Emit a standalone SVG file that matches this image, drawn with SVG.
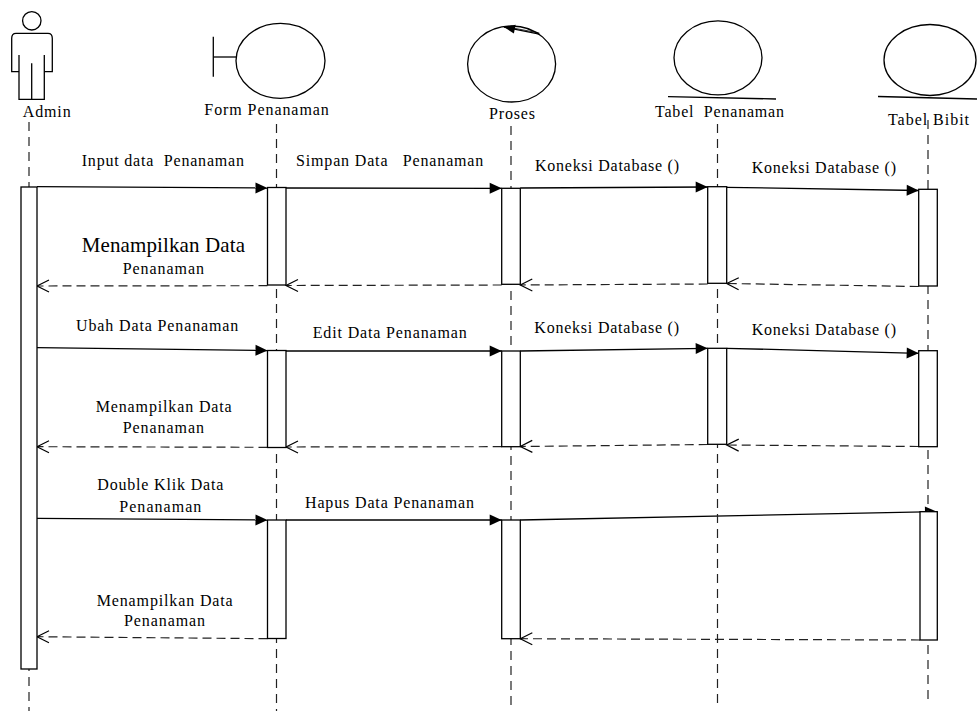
<svg xmlns="http://www.w3.org/2000/svg" width="977" height="711" viewBox="0 0 977 711">
<style>
text{font-family:"Liberation Serif","Times New Roman",serif;font-size:16px;fill:#000;white-space:pre}
.big{font-size:21px}
.sh{fill:none;stroke:#000;stroke-width:1.3}
.life{stroke:#222;stroke-width:1.2;stroke-dasharray:9 6;fill:none}
.act{fill:#fff;stroke:#000;stroke-width:1.3}
.msg{stroke:#000;stroke-width:1.3;fill:none;marker-end:url(#arr)}
.ret{stroke:#222;stroke-width:1.2;fill:none;stroke-dasharray:9 5;marker-end:url(#open)}
</style>
<defs>
<marker id="arr" markerUnits="userSpaceOnUse" markerWidth="13" markerHeight="12" refX="12" refY="5.5" orient="auto" overflow="visible">
<path d="M0,0 L12,5.5 L0,11 z" fill="#000"/>
</marker>
<marker id="small" markerUnits="userSpaceOnUse" markerWidth="12" markerHeight="10" refX="11" refY="4.5" orient="auto" overflow="visible">
<path d="M0,0 L11,4.5 L0,9 z" fill="#000"/>
</marker>
<marker id="open" markerUnits="userSpaceOnUse" markerWidth="13" markerHeight="13" refX="12" refY="6" orient="auto" overflow="visible">
<path d="M0,0 L12,6 L0,12" fill="none" stroke="#000" stroke-width="1.2"/>
</marker>
</defs>
<rect width="977" height="711" fill="#fff"/>

<g id="connectors">
<line class="msg" x1="37" y1="186.7" x2="267.5" y2="188"/>
<line class="msg" x1="286" y1="188" x2="501.7" y2="188.3"/>
<line class="msg" x1="520.3" y1="188" x2="707.7" y2="187"/>
<line class="msg" x1="726.7" y1="187.3" x2="918.7" y2="190.5"/>
<line class="ret" x1="918.7" y1="286.5" x2="726.7" y2="283.5"/>
<line class="ret" x1="707.7" y1="284" x2="520.3" y2="285"/>
<line class="ret" x1="501.7" y1="285" x2="286" y2="285.5"/>
<line class="ret" x1="267.5" y1="285.7" x2="37" y2="286"/>

<line class="msg" x1="37" y1="347.7" x2="267.5" y2="350.5"/>
<line class="msg" x1="286" y1="351" x2="501.7" y2="351"/>
<line class="msg" x1="520.3" y1="351" x2="707.7" y2="348.3"/>
<line class="msg" x1="726.7" y1="348.3" x2="918.7" y2="353.3"/>
<line class="ret" x1="918.7" y1="446.5" x2="726.7" y2="445"/>
<line class="ret" x1="707.7" y1="444.5" x2="520.3" y2="446.5"/>
<line class="ret" x1="501.7" y1="446.7" x2="286" y2="447"/>
<line class="ret" x1="267.5" y1="447.3" x2="37" y2="446.7"/>

<line class="msg" x1="37" y1="518.3" x2="267.5" y2="520"/>
<line class="msg" x1="286" y1="520" x2="501.7" y2="520"/>
<line class="msg" x1="520.3" y1="520" x2="937" y2="511.7"/>
<line class="ret" x1="920" y1="640" x2="520.3" y2="638.7"/>
<line class="ret" x1="267.5" y1="638.7" x2="37" y2="636.7"/>

<text x="81.7" y="165.5" textLength="162.3" lengthAdjust="spacing">Input data  Penanaman</text>
<text x="296" y="165.5" textLength="187.3" lengthAdjust="spacing">Simpan Data   Penanaman</text>
<text x="535" y="170.5" textLength="144" lengthAdjust="spacing">Koneksi Database ()</text>
<text x="751.7" y="173" textLength="144.3" lengthAdjust="spacing">Koneksi Database ()</text>
<text class="big" x="81.7" y="252.3" textLength="163.3" lengthAdjust="spacing">Menampilkan Data</text>
<text x="122.7" y="274" textLength="81.3" lengthAdjust="spacing">Penanaman</text>

<text x="76" y="331" textLength="162.3" lengthAdjust="spacing">Ubah Data Penanaman</text>
<text x="312.7" y="338.3" textLength="154" lengthAdjust="spacing">Edit Data Penanaman</text>
<text x="534.3" y="333.3" textLength="144.7" lengthAdjust="spacing">Koneksi Database ()</text>
<text x="751.7" y="335" textLength="144.3" lengthAdjust="spacing">Koneksi Database ()</text>
<text x="95.7" y="412.3" textLength="136" lengthAdjust="spacing">Menampilkan Data</text>
<text x="122.7" y="432.7" textLength="81.3" lengthAdjust="spacing">Penanaman</text>

<text x="97.3" y="490" textLength="126" lengthAdjust="spacing">Double Klik Data</text>
<text x="119.3" y="511.7" textLength="82" lengthAdjust="spacing">Penanaman</text>
<text x="305" y="508.3" textLength="169" lengthAdjust="spacing">Hapus Data Penanaman</text>
<text x="96.7" y="605.7" textLength="136" lengthAdjust="spacing">Menampilkan Data</text>
<text x="124" y="625.7" textLength="81" lengthAdjust="spacing">Penanaman</text>
</g>

<g id="admin">
<circle class="sh" cx="31.8" cy="20.8" r="9.2"/>
<path class="sh" d="M19,71.7 H11.7 V38.3 Q11.7,33.3 16,33.3 H48 Q52.3,33.3 52.3,38.3 V71.7 H44.3"/>
<path class="sh" d="M19,55 V99.3 H44.3 V55 M31.7,63.3 V99.3"/>
<text x="22.7" y="116.5" textLength="48" lengthAdjust="spacing">Admin</text>
<line class="life" x1="29" y1="122" x2="29" y2="711"/>
<rect class="act" x="21" y="187" width="16" height="482"/>
</g>

<g id="form">
<line class="sh" x1="213.3" y1="36.7" x2="213.3" y2="76.7"/>
<line class="sh" x1="213.3" y1="57" x2="236.2" y2="57"/>
<ellipse class="sh" cx="280.5" cy="60.8" rx="44.5" ry="37.5"/>
<text x="204.3" y="115.3" textLength="124.5" lengthAdjust="spacing">Form Penanaman</text>
<line class="life" x1="276.5" y1="124" x2="276.5" y2="711"/>
<rect class="act" x="267.5" y="187.5" width="18.5" height="97.5"/>
<rect class="act" x="267.5" y="350.5" width="18.5" height="97"/>
<rect class="act" x="267.5" y="520" width="18.5" height="118.5"/>
</g>

<g id="proses">
<ellipse class="sh" cx="511.6" cy="64" rx="44" ry="38"/>
<path d="M539.3,34.2 L504,27" stroke="#000" stroke-width="1.3" fill="none" marker-end="url(#small)"/>
<path d="M539.3,33 L512,27.8" stroke="#000" stroke-width="0.8" fill="none"/>
<text x="489" y="119" textLength="46" lengthAdjust="spacing">Proses</text>
<line class="life" x1="511" y1="126" x2="511" y2="711"/>
<rect class="act" x="501.7" y="188.3" width="18.6" height="96"/>
<rect class="act" x="501.7" y="351" width="18.6" height="95.7"/>
<rect class="act" x="501.7" y="520" width="18.6" height="118.7"/>
</g>

<g id="tabel-penanaman">
<ellipse class="sh" cx="718" cy="57.8" rx="44" ry="37"/>
<line class="sh" x1="668" y1="96.6" x2="776" y2="99"/>
<text x="655" y="117" textLength="129" lengthAdjust="spacing">Tabel  Penanaman</text>
<line class="life" x1="717.5" y1="124" x2="717.5" y2="705"/>
<rect class="act" x="707.7" y="186.7" width="19" height="96.6"/>
<rect class="act" x="707.7" y="348.3" width="19" height="96"/>
</g>

<g id="tabel-bibit">
<ellipse class="sh" cx="930" cy="60" rx="46" ry="35.5"/>
<line class="sh" x1="878" y1="96.5" x2="977" y2="99"/>
<text x="888" y="125" textLength="81" lengthAdjust="spacing">Tabel Bibit</text>
<line class="life" x1="928" y1="120" x2="928" y2="705"/>
<rect class="act" x="918.7" y="189.3" width="18.6" height="96.7"/>
<rect class="act" x="918.7" y="350.7" width="18.6" height="96"/>
<rect class="act" x="920" y="511.7" width="17.3" height="128.3"/>
</g>
</svg>
